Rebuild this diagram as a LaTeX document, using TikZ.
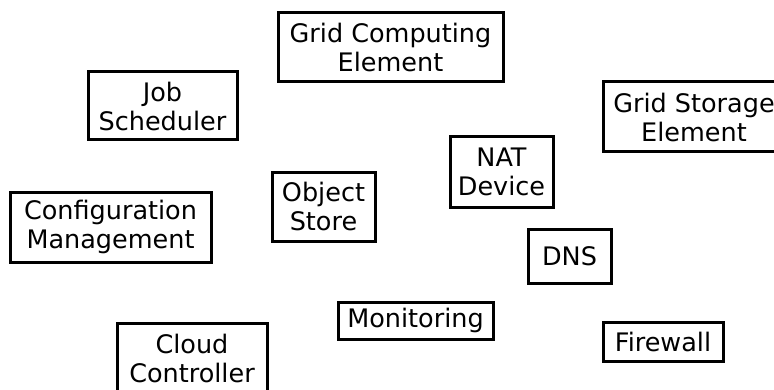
\documentclass[tikz,border=0pt]{standalone}
\usepackage{fontspec}
\setmainfont{DejaVu Sans}
\begin{document}
\begin{tikzpicture}[x=1pt,y=1pt,
  comp/.style={draw=black, line width=3pt, inner sep=0pt, align=center,
    font=\fontsize{25.5}{29}\selectfont, anchor=center}]
\useasboundingbox (0,0) rectangle (774,389);
\fill[white] (0,0) rectangle (774,389);
% components, placed by centre with their box sizes
\node[comp, minimum width=225, minimum height=69] (gce) at (390.5,341.5) {Grid Computing\\Element};
\node[comp, minimum width=149, minimum height=68] (job) at (162.5,283) {Job\\Scheduler};
\node[comp, minimum width=182, minimum height=70] (gse) at (694,272) {Grid Storage\\Element};
\node[comp, minimum width=103, minimum height=70] (nat) at (501.5,217) {NAT\\Device};
\node[comp, minimum width=103, minimum height=69] (obj) at (323.5,182.5) {Object\\Store};
\node[comp, minimum width=201, minimum height=70] (cfg) at (110.5,162) {Configuration\\Management};
\node[comp, minimum width=83, minimum height=54] (dns) at (569.5,133) {DNS};
\node[comp, minimum width=155, minimum height=37] (mon) at (415.5,68.5) {Monitoring};
\node[comp, minimum width=120, minimum height=39] (fw) at (663,47.5) {Firewall};
\node[comp, minimum width=150, minimum height=70] (cc) at (192,31) {Cloud\\Controller};
\end{tikzpicture}
\end{document}
